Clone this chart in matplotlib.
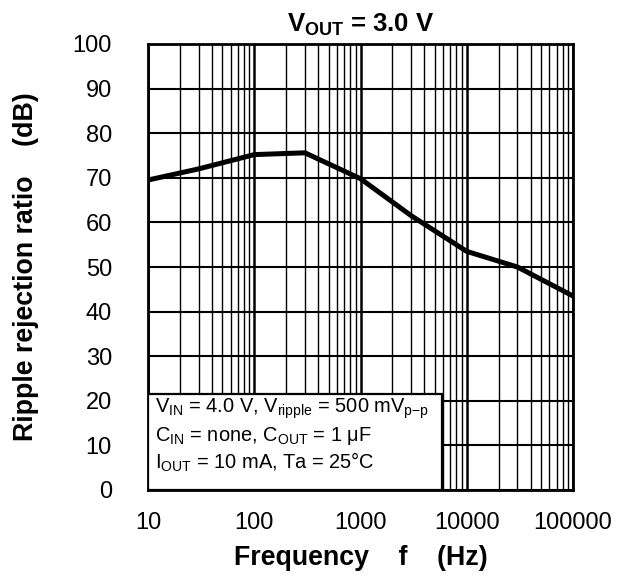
import matplotlib
matplotlib.use("Agg")
import matplotlib.pyplot as plt
from matplotlib.patches import Rectangle
from matplotlib.ticker import FixedLocator, NullFormatter

plt.rcParams['font.family'] = ['Liberation Sans', 'DejaVu Sans']
plt.rcParams['mathtext.fontset'] = 'custom'
plt.rcParams['mathtext.rm'] = 'Liberation Sans'
plt.rcParams['mathtext.it'] = 'Liberation Sans:italic'
plt.rcParams['mathtext.bf'] = 'Liberation Sans:bold'

# data
freq = [10, 30, 100, 300, 1000, 3000, 10000, 30000, 100000]
rr_db = [69.5, 72.0, 75.2, 75.6, 69.8, 61.5, 53.5, 50.0, 43.5]

x_ticks = [10, 100, 1000, 10000, 100000]
x_labels = ['10', '100', '1000', '10000', '100000']
y_ticks = list(range(0, 101, 10))

cond_lines = [
    r'V$_{\mathrm{IN}}$ = 4.0 V, V$_{\mathrm{ripple}}$ = 500 mV$_{\mathrm{p{-}p}}$',
    r'C$_{\mathrm{IN}}$ = none, C$_{\mathrm{OUT}}$ = 1 μF',
    r'I$_{\mathrm{OUT}}$ = 10 mA, Ta = 25°C',
]

fig = plt.figure(figsize=(6.26, 5.79), dpi=100)
ax = fig.add_axes([148/626, 1 - 490/579, 425/626, 446/579])

ax.set_xscale('log')
ax.set_xlim(10, 100000)
ax.set_ylim(0, 100)

# grid: decades thick, minor thinner, horizontal every 10 dB
minors = [m * 10**d for d in range(1, 5) for m in range(2, 10)]
ax.xaxis.set_major_locator(FixedLocator(x_ticks))
ax.xaxis.set_minor_locator(FixedLocator(minors))
ax.xaxis.set_minor_formatter(NullFormatter())
ax.set_xticklabels(x_labels)
ax.set_yticks(y_ticks)
ax.grid(True, which='major', axis='x', color='black', lw=1.8)
ax.grid(True, which='minor', axis='x', color='black', lw=1.0)
ax.grid(True, which='major', axis='y', color='black', lw=1.5)
ax.set_axisbelow(True)

ax.tick_params(which='both', length=0, labelsize=17)
ax.tick_params(axis='y', pad=26)
ax.tick_params(axis='x', pad=16)

for s in ax.spines.values():
    s.set_linewidth(2.0)

ax.plot(freq, rr_db, color='black', lw=3.6, zorder=5)

# conditions box
box = Rectangle((0, 0), (442 - 148) / 425, (490 - 394) / 446, transform=ax.transAxes,
                facecolor='white', edgecolor='black', lw=1.6, zorder=6)
ax.add_patch(box)
for i, t in enumerate(cond_lines):
    ax.text(0.016, 0.182 - i * 0.0605, t, transform=ax.transAxes, fontsize=14.4,
            va='center', ha='left', zorder=7)

ax.set_title(r'$\mathbf{V_{OUT}}$ = 3.0 V', fontsize=18.5, fontweight='bold', pad=9)
ax.set_xlabel('Frequency    f    (Hz)', fontsize=19.3, fontweight='bold', labelpad=8)
ax.set_ylabel('Ripple rejection ratio    (dB)', fontsize=19.3, fontweight='bold', labelpad=24)

fig.savefig('out.png', dpi=100)
